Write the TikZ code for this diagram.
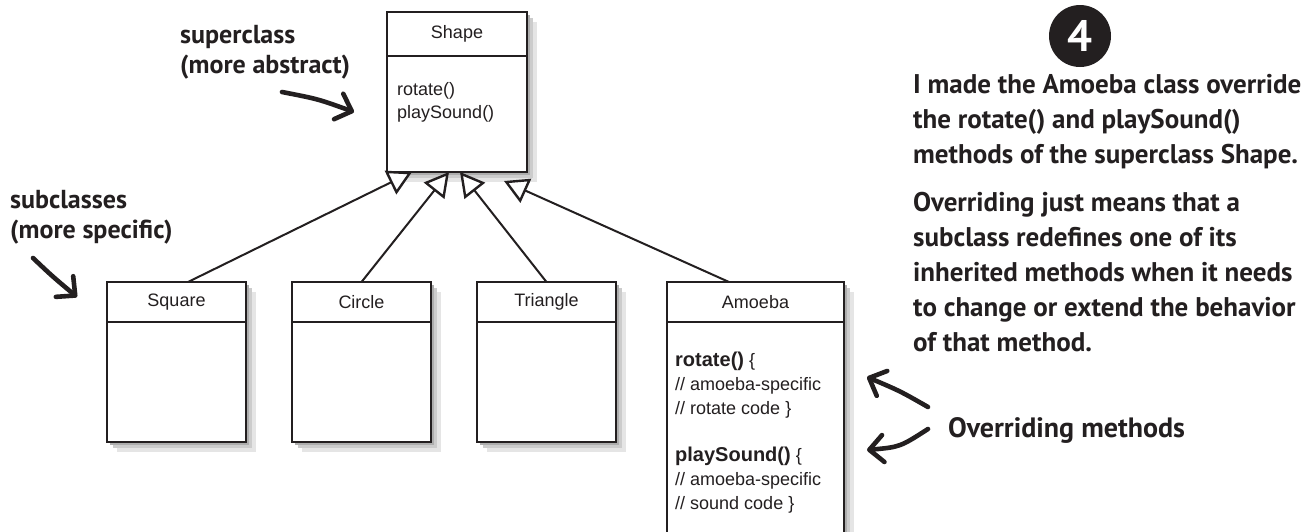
\documentclass[tikz,border=0pt]{standalone}
\usepackage{fontspec}
\newfontfamily\boxfont{Liberation Sans}
\newfontfamily\handfont{PT Sans}
\usetikzlibrary{arrows.meta}
\definecolor{ink}{HTML}{231F20}
\definecolor{shA}{gray}{0.90}
\definecolor{shB}{gray}{0.80}
\definecolor{shC}{gray}{0.68}
\begin{document}
\begin{tikzpicture}[x=1pt,y=-1pt,
  hdr/.style={draw=ink,line width=2pt,fill=white,anchor=north west,minimum width=#1,
              minimum height=40pt,inner sep=0pt,outer sep=0pt,text=ink,
              font=\boxfont\fontsize{18}{22}\selectfont},
  classbody/.style={draw=ink,line width=2pt,fill=white,anchor=north west,minimum width=#1,
              inner sep=0pt,outer sep=0pt},
  mtext/.style={text=ink,align=left,inner sep=0pt,anchor=base west,
              font=\boxfont\fontsize{18}{24}\selectfont},
  handtxt/.style={text=ink,align=left,inner sep=0pt,anchor=base west},
  inh/.style={draw=ink,line width=2pt,line join=miter,
              -{Triangle[length=24pt,width=26pt,fill=white,line width=2.4pt]}},
  handarrow/.style={draw=ink,line width=4.6pt,line cap=round,
              -{Straight Barb[length=14pt,width=27pt,round]}}
]
\useasboundingbox (0,0) rectangle (1315,531);
\fill[white] (0,0) rectangle (1315,531);

% soft shadows (drawn first, under the boxes)
\fill[shA] (397,22) rectangle (537,182);
\fill[shB] (393,18) rectangle (533,178);
\fill[shC] (390,15) rectangle (530,175);
\foreach \bx in {107,292,477}{
  \fill[shA] (\bx+10,292) rectangle (\bx+149,452);
  \fill[shB] (\bx+6,288) rectangle (\bx+145,448);
  \fill[shC] (\bx+3,285) rectangle (\bx+142,445);
}
\fill[shA] (677,292) rectangle (854,560);
\fill[shB] (673,288) rectangle (850,560);
\fill[shC] (670,285) rectangle (847,560);

% superclass
\node[hdr=140pt,minimum height=44pt] (shapeH) at (387,12) {Shape};
\node[classbody=140pt,minimum height=116pt] (shapeB) at (387,56) {};
\node[mtext,font=\boxfont\fontsize{18}{23}\selectfont] (shapeM) at (397,118) {rotate()\\playSound()};

% subclasses
\node[hdr=139pt] (sqH) at (107,282) {Square};
\node[classbody=139pt,minimum height=120pt] (sqB) at (107,322) {};
\node[hdr=139pt] (ciH) at (292,282) {Circle};
\node[classbody=139pt,minimum height=120pt] (ciB) at (292,322) {};
\node[hdr=139pt] (trH) at (477,282) {Triangle};
\node[classbody=139pt,minimum height=120pt] (trB) at (477,322) {};
\node[hdr=177pt] (amH) at (667,282) {Amoeba};
\node[classbody=177pt,minimum height=240pt] (amB) at (667,322) {};
\node[mtext] (amRot) at (675,414) {{\fontsize{20}{24}\selectfont\bfseries rotate()} \{\\// amoeba-specific\\// rotate code \}};
\node[mtext] (amSnd) at (675,509) {{\fontsize{20}{24}\selectfont\bfseries playSound()} \{\\// amoeba-specific\\// sound code \}};

% inheritance connectors
\draw[inh] ([xshift=11.5pt]sqH.north) -- ([xshift=-45pt]shapeB.south);
\draw[inh] (ciH.north) -- ([xshift=-8pt]shapeB.south);
\draw[inh] (trH.north) -- ([xshift=3pt]shapeB.south);
\draw[inh] ([xshift=-26.5pt]amH.north) -- ([xshift=47pt,yshift=-9pt]shapeB.south);

% annotations
\node[handtxt,font=\handfont\bfseries\fontsize{26}{30}\selectfont] (supL) at (180,73) {superclass\\(more abstract)};
\coordinate (supA) at (282,92);
\coordinate (supB) at (354,112);
\draw[handarrow] (supA) .. controls (318,99) .. (supB);

\node[handtxt,font=\handfont\bfseries\fontsize{26}{30}\selectfont] (subL) at (10,238) {subclasses\\(more specific)};
\coordinate (subA) at (33,258);
\coordinate (subB) at (77,297);
\draw[handarrow] (subA) .. controls (52,276) .. (subB);

\node[circle,fill=ink,minimum size=62pt,inner sep=0pt,text=white,
      font=\handfont\bfseries\fontsize{44}{44}\selectfont] (badge) at (1080,36) {4};

\node[handtxt,font=\handfont\bfseries\fontsize{27}{35}\selectfont] (para1) at (913,163)
  {I made the Amoeba class override\\the rotate() and playSound()\\methods of the superclass Shape.};
\node[handtxt,font=\handfont\bfseries\fontsize{27}{35}\selectfont] (para2) at (913,351)
  {Overriding just means that a\\subclass redefines one of its\\inherited methods when it needs\\to change or extend the behavior\\of that method.};

\node[handtxt,font=\handfont\bfseries\fontsize{28}{35}\selectfont] (ovL) at (948,437) {Overriding methods};
\coordinate (ovA1) at (928,407);
\coordinate (ovB1) at (867,377);
\draw[handarrow] (ovA1) .. controls (900,391) .. (ovB1);
\coordinate (ovA2) at (928,429);
\coordinate (ovB2) at (867,450);
\draw[handarrow] (ovA2) .. controls (900,447) .. (ovB2);
\end{tikzpicture}
\end{document}
